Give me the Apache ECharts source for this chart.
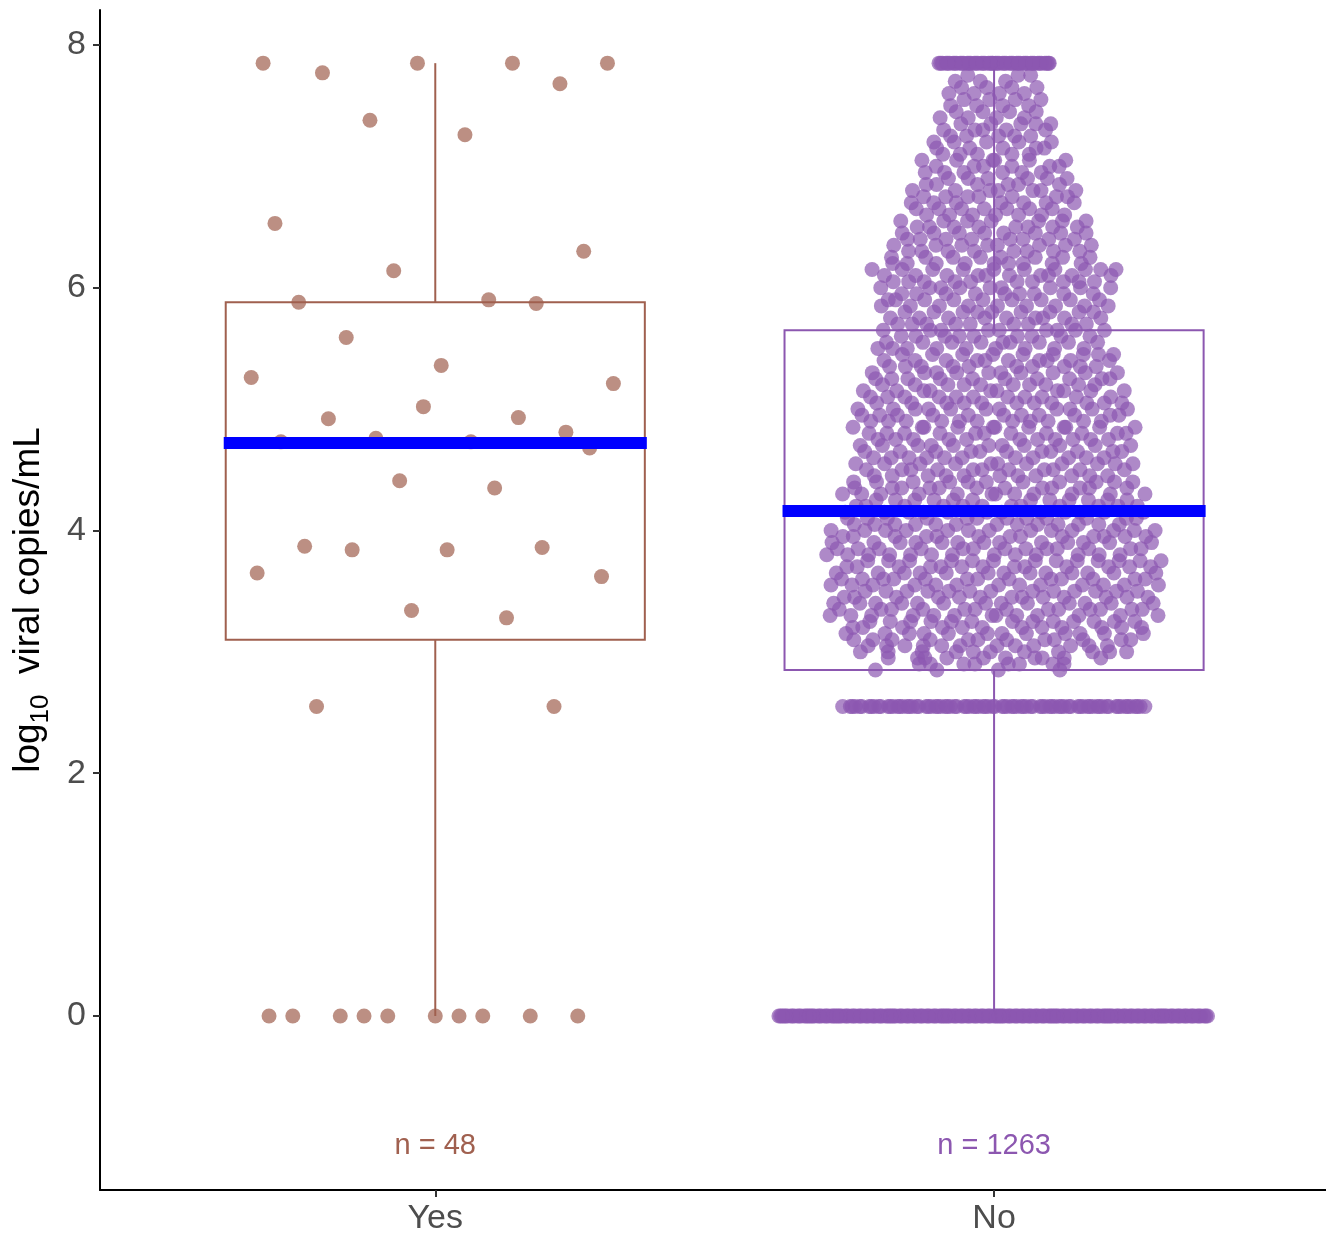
<!DOCTYPE html>
<html><head><meta charset="utf-8">
<script src="https://cdn.jsdelivr.net/npm/echarts@6/dist/echarts.min.js"></script>
<style>html,body{margin:0;padding:0;background:#fff}#c{width:1326px;height:1237px}</style>
</head><body><div id="c"></div>
<script>
// ---------------- DATA ----------------
const categories = ['Yes', 'No'];

// individual log10 viral loads for the "Yes" group (48 points)
const yesValues = [
  0, 0, 0, 0, 0, 0, 0, 0, 0, 0,
  2.55, 2.55,
  3.28, 3.34, 3.62, 3.65, 3.84, 3.84, 3.86, 3.87,
  4.35, 4.41, 4.68, 4.73, 4.73, 4.76, 4.81, 4.92, 4.93,
  5.02, 5.21, 5.26, 5.36, 5.59, 5.87, 5.88, 5.90,
  6.14, 6.30, 6.53,
  7.26, 7.38, 7.68, 7.77, 7.85, 7.85, 7.85, 7.85
];

// "No" group (1263 points) read as value bins and the number of points in each bin
const noBinValues = [
  0, 2.55,
  2.85, 2.90, 2.95, 3.00, 3.05, 3.10, 3.15, 3.20,
  3.25, 3.30, 3.35, 3.40, 3.45, 3.50, 3.55, 3.60, 3.65, 3.70, 3.75, 3.80, 3.85, 3.90, 3.95, 4.00, 4.05,
  4.10, 4.15, 4.20, 4.25, 4.30, 4.35,
  4.40, 4.45, 4.50, 4.55, 4.60, 4.65, 4.70, 4.75, 4.80, 4.85, 4.90, 4.95, 5.00, 5.05, 5.10,
  5.15, 5.20, 5.25, 5.30, 5.35, 5.40,
  5.45, 5.50, 5.55, 5.60, 5.65, 5.70, 5.75, 5.80, 5.85, 5.90, 5.95, 6.00,
  6.05, 6.10, 6.15, 6.20,
  6.25, 6.30, 6.35, 6.40, 6.45, 6.50,
  6.55, 6.60, 6.65, 6.70, 6.75, 6.80,
  6.85, 6.90, 6.95, 7.00, 7.05,
  7.10, 7.15, 7.20, 7.25, 7.30, 7.35,
  7.40, 7.45, 7.50, 7.55, 7.60, 7.65,
  7.70, 7.75,
  7.85
];
const noBinCounts = [
  200, 87,
  4, 8, 10, 11, 12, 12, 12, 12,
  13, 13, 13, 13, 13, 13, 13, 13, 13, 13, 13, 13, 13, 13, 13, 13, 13,
  12, 12, 12, 12, 12, 12,
  11, 11, 11, 11, 11, 11, 11, 11, 11, 11, 11, 11, 11, 11, 11,
  10, 10, 10, 10, 10, 10,
  9, 9, 9, 9, 9, 9, 9, 9, 9, 9, 9, 9,
  10, 10, 10, 9,
  8, 8, 8, 8, 8, 8,
  7, 7, 7, 7, 7, 7,
  6, 6, 6, 6, 6,
  5, 5, 5, 5, 5, 5,
  4, 4, 4, 4, 4, 4,
  3, 3,
  50
];

// box-plot statistics (Yes, No)
const boxMin    = [0, 0];
const boxQ1     = [3.10, 2.85];
const boxMedian = [4.72, 4.16];
const boxQ3     = [5.88, 5.65];
const boxMax    = [7.85, 7.85];

const yTickValues = [0, 2, 4, 6, 8];

// ---------------- LAYOUT / STYLE ----------------
const groupColors = ['#a0604f', '#8c57b0'];
const FONT = 'Liberation Sans, Arial, Helvetica, sans-serif';
const BOX_HALF = 0.375;

function vdc(n) { let v = 0, d = 1; while (n > 0) { d *= 2; v += (n & 1) / d; n >>= 1; } return v; }

// expand No bins
const noValues = [];
noBinValues.forEach((v, i) => { for (let k = 0; k < noBinCounts[i]; k++) noValues.push(v); });

// quasirandom-like horizontal spread
const spikeHalf = { 0: 0.388, 2.55: 0.272, 7.85: 0.101 };
const contBins = noBinValues.map((v, i) => [v, noBinCounts[i]]).filter(b => spikeHalf[b[0]] === undefined);
function contDensity(y) {
  const bw = 0.07; let s = 0;
  contBins.forEach(b => { const z = (y - b[0]) / bw; s += b[1] * Math.exp(-0.5 * z * z); });
  return s;
}
const maxDens = Math.max(...contBins.map(b => contDensity(b[0])));
const lowestCont = Math.min(...contBins.map(b => b[0]));
function noHalf(v) {
  if (spikeHalf[v] !== undefined) return spikeHalf[v];
  if (v === lowestCont) return 0.22;
  return Math.max(0.09, 0.30 * contDensity(v) / maxDens);
}

const yesSorted = yesValues.slice().sort((a, b) => a - b);
const yesPoints = yesSorted.map((v, i) => [1 + (vdc(i + 1) - 0.5) * 2 * 0.34, v]);
const noSorted = noValues.slice().sort((a, b) => a - b);
const noPoints = noSorted.map((v, i) => [2 + (vdc(i + 1) - 0.5) * 2 * noHalf(v), v]);

const counts = [yesValues.length, noValues.length];

const boxData = categories.map((c, i) => [i + 1, boxMin[i], boxQ1[i], boxMedian[i], boxQ3[i], boxMax[i]]);

const chart = echarts.init(document.getElementById('c'), null, { renderer: 'canvas' });
chart.setOption({
  animation: false,
  backgroundColor: '#ffffff',
  grid: { left: 100, right: 0, top: 10, bottom: 47 },
  xAxis: {
    type: 'value', min: 0.4, max: 2.594,
    axisLine: { show: true, onZero: false, lineStyle: { color: '#000', width: 2 } },
    axisTick: { show: true, customValues: [1, 2], length: 7, lineStyle: { color: '#333', width: 2 } },
    axisLabel: { customValues: [1, 2], formatter: v => categories[Math.round(v) - 1], fontSize: 34, color: '#4d4d4d', margin: 12, fontFamily: FONT },
    splitLine: { show: false }
  },
  yAxis: {
    type: 'value', min: -1.434, max: 8.288,
    axisLine: { show: true, onZero: false, lineStyle: { color: '#000', width: 2 } },
    axisTick: { show: true, customValues: yTickValues, length: 7, lineStyle: { color: '#333', width: 2 } },
    axisLabel: { customValues: yTickValues, fontSize: 34, color: '#4d4d4d', margin: 14, fontFamily: FONT },
    splitLine: { show: false },
    name: '{a|log}{sub|10}{a|  viral copies/mL}',
    nameLocation: 'middle', nameRotate: 90, nameGap: 46,
    nameTextStyle: {
      fontFamily: FONT, color: '#000',
      rich: {
        a: { fontSize: 37, color: '#000', fontFamily: FONT, verticalAlign: 'bottom', padding: [0, 0, 7, 0] },
        sub: { fontSize: 26, color: '#000', fontFamily: FONT, verticalAlign: 'bottom' }
      }
    }
  },
  series: [
    {
      type: 'custom', silent: true, z: 1,
      data: boxData,
      renderItem: function (params, api) {
        const x = api.value(0);
        const col = groupColors[params.dataIndex];
        const lt = api.coord([x - BOX_HALF, api.value(4)]);
        const rb = api.coord([x + BOX_HALF, api.value(2)]);
        const top = api.coord([x, api.value(5)]);
        const bot = api.coord([x, api.value(1)]);
        const style = { stroke: col, lineWidth: 2, fill: null };
        return {
          type: 'group', children: [
            { type: 'rect', shape: { x: lt[0], y: lt[1], width: rb[0] - lt[0], height: rb[1] - lt[1] }, style: style },
            { type: 'line', shape: { x1: top[0], y1: top[1], x2: top[0], y2: lt[1] }, style: style },
            { type: 'line', shape: { x1: bot[0], y1: rb[1], x2: bot[0], y2: bot[1] }, style: style }
          ]
        };
      }
    },
    {
      type: 'scatter', silent: true, z: 2, symbolSize: 15,
      data: yesPoints,
      itemStyle: { color: groupColors[0], opacity: 0.7 }
    },
    {
      type: 'scatter', silent: true, z: 2, symbolSize: 15,
      data: noPoints,
      itemStyle: { color: groupColors[1], opacity: 0.7 }
    },
    {
      type: 'custom', silent: true, z: 5,
      data: boxData,
      renderItem: function (params, api) {
        const x = api.value(0);
        const l = api.coord([x - BOX_HALF, api.value(3)]);
        const r = api.coord([x + BOX_HALF, api.value(3)]);
        return { type: 'line', shape: { x1: l[0] - 2, y1: l[1], x2: r[0] + 2, y2: r[1] }, style: { stroke: '#0000ff', lineWidth: 12, lineCap: 'butt' } };
      }
    },
    {
      type: 'custom', silent: true, z: 6,
      data: categories.map((c, i) => [i + 1, -1.07]),
      renderItem: function (params, api) {
        const p = api.coord([api.value(0), api.value(1)]);
        return { type: 'text', x: p[0], y: p[1], style: { text: 'n = ' + counts[params.dataIndex], fill: groupColors[params.dataIndex], font: '29px ' + FONT, align: 'center', verticalAlign: 'middle' } };
      }
    }
  ]
});
</script>
</body></html>
